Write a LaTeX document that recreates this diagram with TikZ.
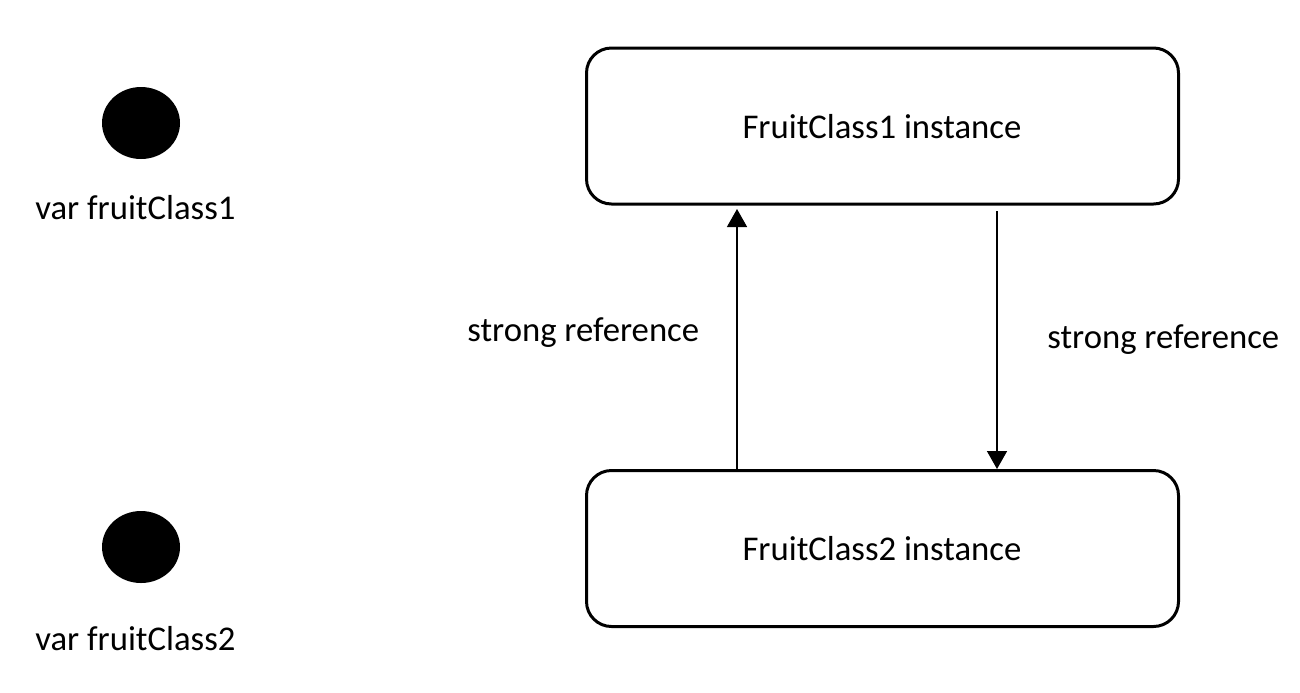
\documentclass[tikz,border=0pt]{standalone}
\usepackage{fontspec}
\setmainfont{Carlito}
\usetikzlibrary{arrows.meta,shapes.geometric}
\begin{document}
\begin{tikzpicture}[x=0.5pt,y=-0.5pt,
  every node/.style={font=\fontsize{17.35pt}{20pt}\selectfont, inner sep=0pt},
  objbox/.style={draw, line width=1.5pt, rounded corners=12.5pt, minimum width=296pt, minimum height=78pt},
  refdot/.style={ellipse, fill=black, minimum width=39pt, minimum height=36pt},
  refarrow/.style={line width=0.75pt, -{Triangle[width=10pt,length=9pt]}},
  lbl/.style={anchor=base west}]
\useasboundingbox (0,0) rectangle (1300,692);
\node[refdot] (d1) at (141,123) {};
\node[refdot] (d2) at (141,547) {};
\node[lbl] (v1) at (35,219) {var fruitClass1};
\node[lbl] (v2) at (35,650) {var fruitClass2};
\node[objbox] (b1) at (882.5,126) {};
\node[objbox] (b2) at (882.5,548.5) {};
\node[anchor=base] (t1) at (882,138) {FruitClass1 instance};
\node[anchor=base] (t2) at (882,560) {FruitClass2 instance};
\coordinate (upend) at (737,209);
\coordinate (downstart) at (997,211);
\draw[refarrow] (b2.north -| upend) -- (upend);
\draw[refarrow] (downstart) -- (b2.north -| downstart);
\node[lbl] (s1) at (467,341) {strong reference};
\node[lbl] (s2) at (1047,348) {strong reference};
\end{tikzpicture}
\end{document}
